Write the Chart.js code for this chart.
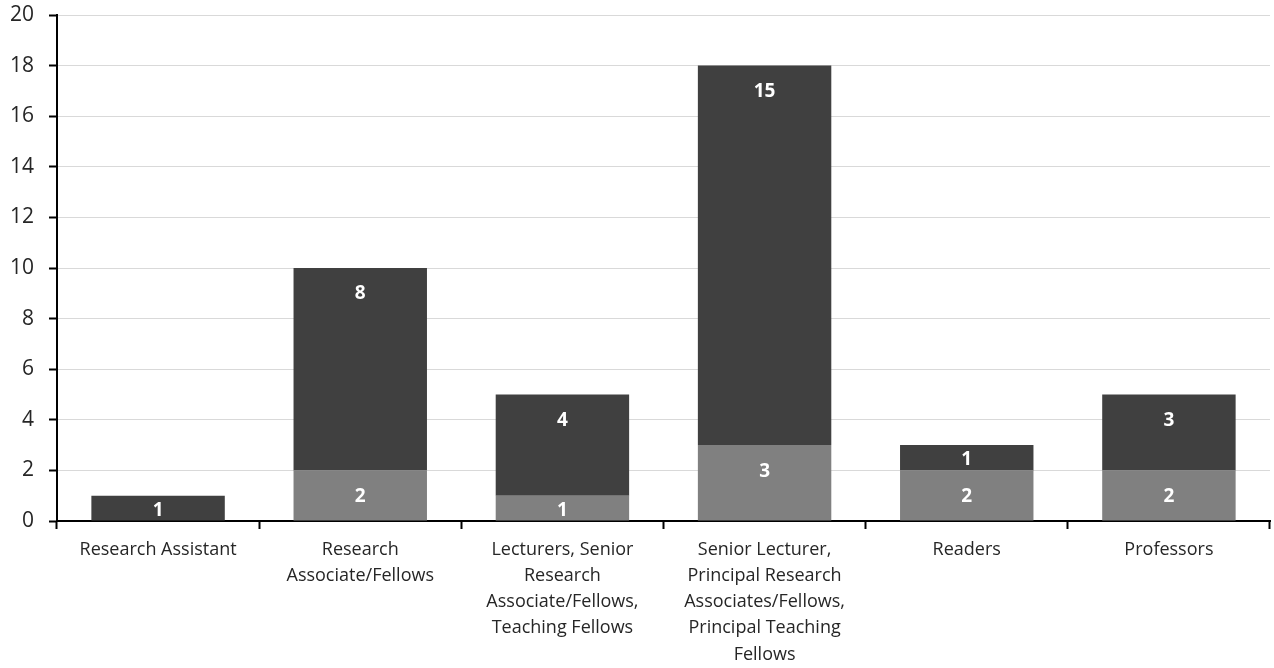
<!DOCTYPE html>
<html lang="en">
<head>
    <meta charset="UTF-8">
    <title>Staff by grade</title>
    <script src="https://cdn.jsdelivr.net/npm/chart.js"></script>
    <style>
        html, body { margin: 0; padding: 0; background: #fff; }
        #wrap { width: 1274px; height: 668px; }
    </style>
</head>
<body>
<div id="wrap"><canvas id="staffChart"></canvas></div>
<script>
    // categories (wrapped as in the original)
    const grades = [
        ["Research Assistant"],
        ["Research", "Associate/Fellows"],
        ["Lecturers, Senior", "Research", "Associate/Fellows,", "Teaching Fellows"],
        ["Senior Lecturer,", "Principal Research", "Associates/Fellows,", "Principal Teaching", "Fellows"],
        ["Readers"],
        ["Professors"]
    ];
    const lowerCounts = [0, 2, 1, 3, 2, 2];   // light grey segment
    const upperCounts = [1, 8, 4, 15, 1, 3];  // dark grey segment
    const yTicks = [0, 2, 4, 6, 8, 10, 12, 14, 16, 18, 20];

    const textColor = '#262626';

    // white labels near the top of each segment
    const segmentLabels = {
        id: 'segmentLabels',
        afterDatasetsDraw(chart) {
            const ctx = chart.ctx;
            ctx.save();
            ctx.fillStyle = '#ffffff';
            ctx.font = 'bold 19px "Open Sans"';
            ctx.textAlign = 'center';
            ctx.textBaseline = 'middle';
            chart.data.datasets.forEach((ds, i) => {
                chart.getDatasetMeta(i).data.forEach((bar, j) => {
                    const v = ds.data[j];
                    if (!v) return;
                    const top = Math.min(bar.y, bar.base);
                    const h = Math.abs(bar.base - bar.y);
                    ctx.fillText(String(v), bar.x, top + Math.min(24, h / 2) + 2);
                });
            });
            ctx.restore();
        }
    };

    new Chart(document.getElementById('staffChart'), {
        type: 'bar',
        data: {
            labels: grades,
            datasets: [
                { label: 'lower', data: lowerCounts, backgroundColor: '#808080' },
                { label: 'upper', data: upperCounts, backgroundColor: '#404040' }
            ]
        },
        plugins: [segmentLabels],
        options: {
            responsive: true,
            maintainAspectRatio: false,
            animation: false,
            layout: { padding: { top: 15, right: 4, left: 0, bottom: 0 } },
            plugins: { legend: { display: false }, tooltip: { enabled: false } },
            datasets: { bar: { categoryPercentage: 1, barPercentage: 0.66 } },
            scales: {
                x: {
                    stacked: true,
                    afterFit(s) { s.height = 147; s.paddingLeft = 0; s.paddingRight = 0; },
                    grid: {
                        offset: true,
                        drawOnChartArea: false,
                        tickLength: 8,
                        tickColor: '#000',
                        tickWidth: 2
                    },
                    border: { display: true, color: '#000', width: 2 },
                    ticks: {
                        color: textColor,
                        padding: 8,
                        maxRotation: 0,
                        autoSkip: false,
                        font: { family: 'Open Sans', size: 18, lineHeight: 1.45 }
                    }
                },
                y: {
                    stacked: true,
                    min: 0,
                    max: 20,
                    afterFit(s) { s.width = 57; s.paddingTop = 0; s.paddingBottom = 0; },
                    afterBuildTicks(s) { s.ticks = yTicks.map(v => ({ value: v })); },
                    grid: {
                        color: '#d9d9d9',
                        lineWidth: 1,
                        tickLength: 8,
                        tickColor: '#000',
                        tickWidth: 2
                    },
                    border: { display: true, color: '#000', width: 2 },
                    ticks: {
                        color: textColor,
                        padding: 15,
                        font: { family: 'Open Sans', size: 21 }
                    }
                }
            }
        }
    });
</script>
</body>
</html>
